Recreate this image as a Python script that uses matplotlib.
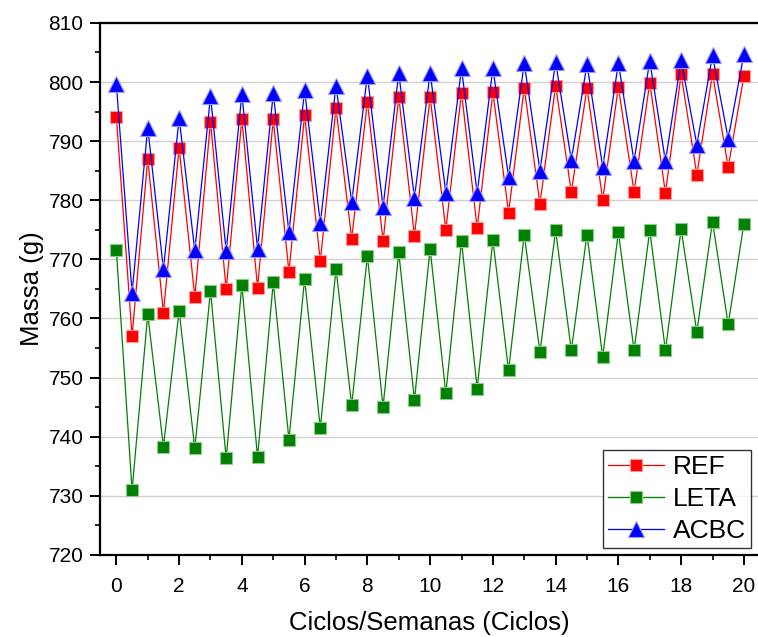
import numpy as np
import matplotlib
matplotlib.use("Agg")
import matplotlib.pyplot as plt
from matplotlib.ticker import MultipleLocator

plt.rcParams["font.family"] = ["Liberation Sans", "DejaVu Sans"]

# ---------------------------
# Data
# ---------------------------
ciclos = np.arange(0, 20.5, 0.5)

ref = [794.1, 757.0, 787.0, 761.0, 788.9, 763.6, 793.3, 764.9, 793.8, 765.2,
       793.7, 767.9, 794.4, 769.7, 795.6, 773.5, 796.7, 773.1, 797.5, 774.0,
       797.5, 775.0, 798.2, 775.3, 798.3, 777.9, 799.0, 779.4, 799.4, 781.4,
       799.0, 780.1, 799.2, 781.4, 799.9, 781.2, 801.3, 784.3, 801.4, 785.6,
       801.0]

leta = [771.5, 730.9, 760.7, 738.3, 761.3, 738.0, 764.7, 736.3, 765.7, 736.5,
        766.1, 739.5, 766.7, 741.4, 768.4, 745.3, 770.6, 745.0, 771.2, 746.2,
        771.8, 747.3, 773.1, 748.1, 773.3, 751.2, 774.2, 754.3, 774.9, 754.6,
        774.2, 753.5, 774.6, 754.6, 774.9, 754.6, 775.1, 757.7, 776.4, 759.0,
        776.0]

acbc = [799.6, 764.3, 792.3, 768.3, 793.9, 771.5, 797.6, 771.4, 798.0, 771.8,
        798.1, 774.6, 798.6, 776.1, 799.4, 779.7, 801.1, 778.9, 801.5, 780.4,
        801.6, 781.3, 802.3, 781.2, 802.3, 784.0, 803.2, 785.0, 803.4, 786.8,
        803.0, 785.6, 803.2, 786.6, 803.6, 786.6, 803.7, 789.4, 804.5, 790.4,
        804.7]

# ---------------------------
# Plot
# ---------------------------
fig = plt.figure(figsize=(7.58, 6.37), dpi=100)
ax = fig.add_axes([0.132, 0.129, 0.868, 0.835])

ax.plot(ciclos, ref, "-s", color="red", lw=0.9, ms=9, mec="#ff9999", mew=0.8,
        label="REF", zorder=3)
ax.plot(ciclos, leta, "-s", color="green", lw=0.9, ms=9, mec="#88cc88", mew=0.8,
        label="LETA", zorder=3)
ax.plot(ciclos, acbc, "-^", color="blue", lw=0.9, ms=11.5, mec="#9999ff", mew=0.8,
        label="ACBC", zorder=4)

ax.set_xlim(-0.52, 20.45)
ax.set_ylim(720, 810)
ax.xaxis.set_major_locator(MultipleLocator(2))
ax.xaxis.set_minor_locator(MultipleLocator(1))
ax.yaxis.set_major_locator(MultipleLocator(10))
ax.yaxis.set_minor_locator(MultipleLocator(5))
ax.grid(True, axis="y", which="major", color="#d0d0d0", lw=1.0, zorder=0)

ax.spines["right"].set_visible(False)
for s in ["left", "bottom", "top"]:
    ax.spines[s].set_linewidth(1.6)
ax.tick_params(which="major", direction="out", length=7, width=1.4,
               labelsize=15, top=False, right=False)
ax.tick_params(which="minor", direction="out", length=3.5, width=1.2,
               top=False, right=False)
ax.tick_params(axis="x", which="major", pad=9)
ax.tick_params(axis="y", which="major", pad=5)

ax.set_xlabel("Ciclos/Semanas (Ciclos)", fontsize=18.5, labelpad=11)
ax.set_ylabel("Massa (g)", fontsize=18.5, labelpad=3)

leg = ax.legend(loc="lower right", bbox_to_anchor=(0.99, 0.012), fontsize=19,
                frameon=True, fancybox=False, edgecolor="black",
                handlelength=2.1, handletextpad=0.35, borderpad=0.2,
                labelspacing=0.3, borderaxespad=0.0)
leg.get_frame().set_linewidth(1.0)

fig.savefig("out.png", dpi=100)
